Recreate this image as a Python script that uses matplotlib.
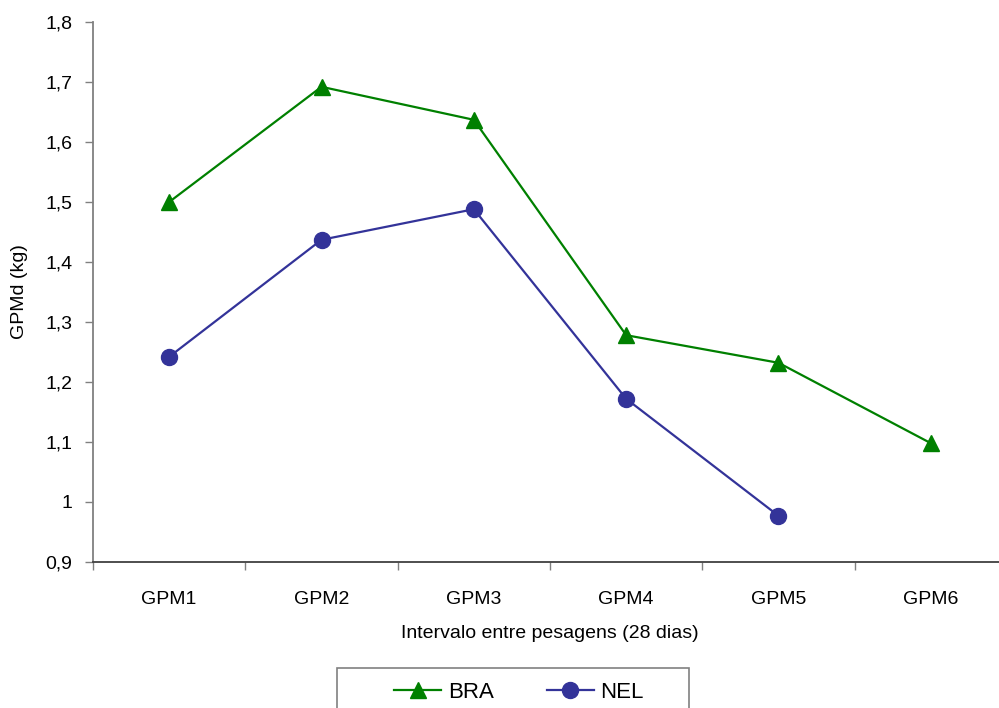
import matplotlib.pyplot as plt
from matplotlib.patches import Rectangle
from matplotlib.ticker import FixedLocator

plt.rcParams['font.family'] = ['Liberation Sans', 'DejaVu Sans']

categorias = ['GPM1', 'GPM2', 'GPM3', 'GPM4', 'GPM5', 'GPM6']
bra = [1.50, 1.692, 1.637, 1.278, 1.232, 1.098]
nel = [1.242, 1.437, 1.488, 1.172, 0.977]
yticks = [0.9, 1.0, 1.1, 1.2, 1.3, 1.4, 1.5, 1.6, 1.7, 1.8]
ytick_labels = ['0,9', '1', '1,1', '1,2', '1,3', '1,4', '1,5', '1,6', '1,7', '1,8']

W, H = 999, 708
fig = plt.figure(figsize=(W / 100, H / 100), dpi=100)
ax = fig.add_axes([93 / W, (H - 562) / H, (1007 - 93) / W, (562 - 22) / H])

verde = '#008000'
azul = '#333399'
ax.plot(range(len(bra)), bra, color=verde, lw=1.6, marker='^', ms=11.5,
        label='BRA', clip_on=False)
ax.plot(range(len(nel)), nel, color=azul, lw=1.6, marker='o', ms=11.5,
        label='NEL', clip_on=False)

ax.set_xlim(-0.5, len(categorias) - 0.5)
ax.set_ylim(0.9, 1.8)
ax.set_yticks(yticks)
ax.set_yticklabels(ytick_labels)
ax.set_xticks(range(len(categorias)))
ax.set_xticklabels(categorias)
ax.xaxis.set_minor_locator(FixedLocator([i + 0.5 for i in range(-1, len(categorias))]))

ax.tick_params(axis='y', direction='out', length=6, width=1, color='#808080',
               pad=9, labelsize=14)
ax.tick_params(axis='x', which='major', length=0, pad=21, labelsize=14)
ax.tick_params(axis='x', which='minor', direction='out', length=6, width=1,
               color='#808080')

for lado in ['top', 'right']:
    ax.spines[lado].set_visible(False)
ax.spines['left'].set_color('#808080')
ax.spines['left'].set_linewidth(1.3)
ax.spines['bottom'].set_color('#404040')
ax.spines['bottom'].set_linewidth(1.3)

ax.set_ylabel('GPMd (kg)', fontsize=14, labelpad=12)
ax.set_xlabel('Intervalo entre pesagens (28 dias)', fontsize=14, labelpad=12)

# caixa da legenda, cortada pela borda inferior da figura
caixa = Rectangle((337 / W, -0.05), (689 - 337) / W, (H - 668) / H + 0.05,
                  transform=fig.transFigure, facecolor='white',
                  edgecolor='#808080', lw=1.2)
fig.patches.append(caixa)
fig.legend(loc='center', bbox_to_anchor=(519 / W, (H - 692) / H), ncol=2,
           frameon=False, fontsize=16, handlelength=2.1, handletextpad=0.3,
           columnspacing=2.4, markerscale=1.0)

fig.savefig('out.png', dpi=100)
